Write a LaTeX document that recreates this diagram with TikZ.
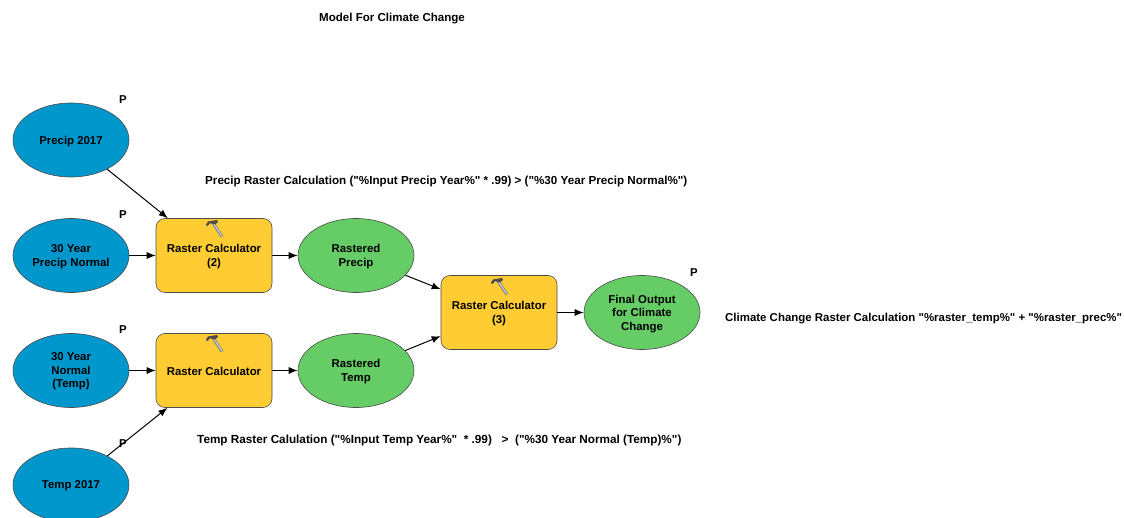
\documentclass[tikz,border=0pt]{standalone}
\usepackage{fontspec}
\setmainfont{Liberation Sans}[Ligatures=TeXOff]
\usetikzlibrary{arrows.meta,shapes.geometric}
\definecolor{inputblue}{RGB}{0,151,204}
\definecolor{toolyellow}{RGB}{255,204,51}
\definecolor{outputgreen}{RGB}{102,204,102}
\tikzset{
    modeltext/.style={font=\fontsize{11.4}{13.5}\selectfont\bfseries,align=center,text=black,
        execute at begin node={\vbox\bgroup\kern2.4pt\hbox\bgroup},execute at end node={\egroup\egroup}},
    inputnode/.style={ellipse,modeltext,draw=black!70,line width=0.6pt,fill=inputblue,minimum width=116pt,minimum height=74pt,inner sep=0pt},
    outputnode/.style={inputnode,fill=outputgreen},
    toolnode/.style={rectangle,modeltext,draw=black!70,line width=0.6pt,fill=toolyellow,rounded corners=9pt,minimum width=116pt,minimum height=74pt,inner sep=0pt},
    noteline/.style={modeltext,font=\fontsize{#1}{13.5}\selectfont\bfseries,anchor=west,inner sep=0pt},
    flagnode/.style={modeltext,inner sep=0pt},
    flowline/.style={line width=1pt,-{Latex[length=9pt,width=7pt]}},
    hammer/.pic={
        \draw[line width=3pt,black!50] (0,-4) -- (9,9.5);
        \draw[line width=1.3pt,black!22] (0.5,-3.5) -- (8.8,9);
        \fill[black!70] (-7,-2.5) -- (-5,-5.5) -- (4,-7) -- (5,-5) -- (2,-2.5) -- (-3,-3.8) -- (-6,-0.5) -- cycle;
    }
}

\begin{document}
\begin{tikzpicture}[x=1pt,y=-1pt]
    \useasboundingbox (0,0) rectangle (1124,518);

    \node[noteline=11.55] (title) at (319,17.5) {Model For Climate Change};

    \node[inputnode] (precip) at (71,140) {Precip 2017};
    \node[inputnode] (precipnormal) at (71,255.5) {30 Year\\Precip Normal};
    \node[inputnode] (tempnormal) at (71,370.5) {30 Year\\Normal\\(Temp)};
    \node[inputnode] (temp) at (71,485) {Temp 2017};

    \node[toolnode] (calctwo) at (214,255.5) {Raster Calculator\\(2)};
    \node[toolnode] (calcone) at (214,370.5) {Raster Calculator};
    \node[toolnode] (calcthree) at (499,312.5) {Raster Calculator\\(3)};

    \node[outputnode] (rasterprecip) at (356,255.5) {Rastered\\Precip};
    \node[outputnode] (rastertemp) at (356,370.5) {Rastered\\Temp};
    \node[outputnode] (final) at (642,312.5) {Final Output\\for Climate\\Change};

    \draw[flowline] (precip) -- (calctwo);
    \draw[flowline] (precipnormal) -- (calctwo);
    \draw[flowline] (tempnormal) -- (calcone);
    \draw[flowline] (temp) -- (calcone);
    \draw[flowline] (calctwo) -- (rasterprecip);
    \draw[flowline] (calcone) -- (rastertemp);
    \draw[flowline] (rasterprecip) -- (calcthree);
    \draw[flowline] (rastertemp) -- (calcthree);
    \draw[flowline] (calcthree) -- (final);

    \pic at (213,227) {hammer};
    \pic at (213,342) {hammer};
    \pic at (498,285) {hammer};

    \node[flagnode] (flagprecip) at (123,98) {P};
    \node[flagnode] (flagprecipnormal) at (123,213) {P};
    \node[flagnode] (flagtempnormal) at (123,328) {P};
    \node[flagnode] (flagtemp) at (123,442) {P};
    \node[flagnode] (flagfinal) at (694,271) {P};

    \node[noteline=11.65] (noteprecip) at (205,180) {Precip Raster Calculation ("\%Input Precip Year\%" * .99) > ("\%30 Year Precip Normal\%")};
    \node[noteline=11.75] (notetemp) at (197,439) {Temp Raster Calulation ("\%Input Temp Year\%"\ \ * .99)\ \ \ >\ \ ("\%30 Year Normal (Temp)\%")};
    \node[noteline=11.45] (notefinal) at (725,317) {Climate Change Raster Calculation "\%raster\_temp\%" + "\%raster\_prec\%"};
\end{tikzpicture}
\end{document}
